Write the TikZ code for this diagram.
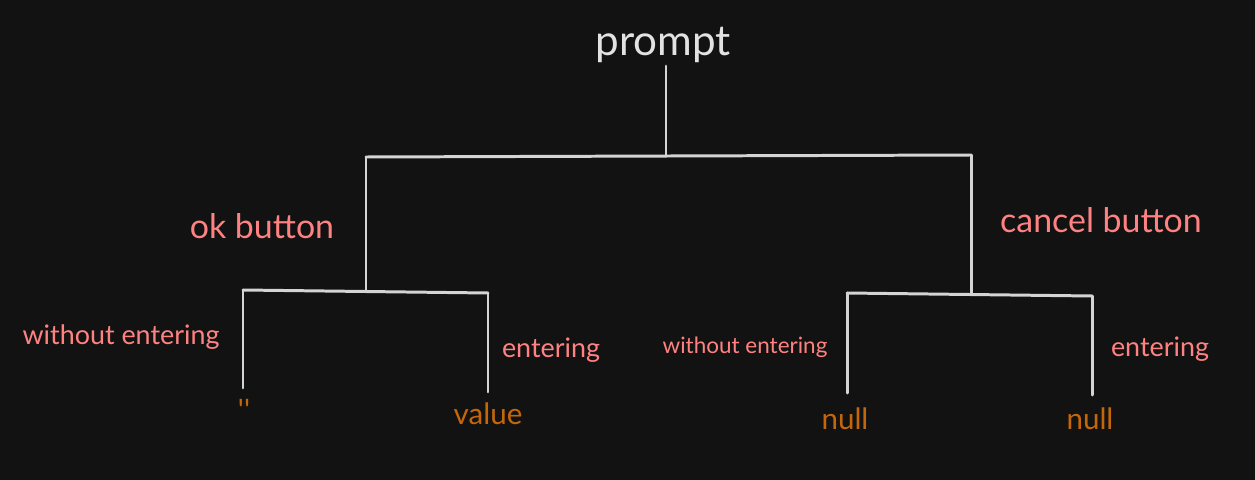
\documentclass[tikz,border=0pt]{standalone}
\usepackage{fontspec}
\setmainfont{Lato}
\definecolor{bg}{HTML}{121212}
\definecolor{wire}{HTML}{D4D4D4}
\definecolor{lbl}{HTML}{FF8282}
\definecolor{outc}{HTML}{C4670A}
\definecolor{ttl}{HTML}{E2E2E2}
\tikzset{
  wireline/.style={draw=wire, line width=1.7pt, line cap=round, line join=round},
  branchlbl/.style={text=lbl, inner sep=0pt, font=\fontsize{19.3}{21}\selectfont},
  caselbl/.style={text=lbl, inner sep=0pt, font=\fontsize{15.3}{17}\selectfont},
  smallcase/.style={text=lbl, inner sep=0pt, font=\fontsize{12.8}{14}\selectfont},
  outlbl/.style={text=outc, inner sep=0pt, font=\fontsize{16.8}{18}\selectfont},
}
\begin{document}
\begin{tikzpicture}[x=0.02cm, y=-0.02cm]
\useasboundingbox (0,0) rectangle (1255,480);
\fill[bg] (0,0) rectangle (1255,480);

% title
\node[text=ttl, inner sep=0pt, font=\fontsize{24}{27}\selectfont] (prompt) at (663,45) {prompt};

% junction coordinates
\coordinate (stemtop) at (666,66);
\coordinate (topmid) at (666,156);
\coordinate (topL) at (366,157);
\coordinate (topR) at (971,155);
\coordinate (okJ) at (366,291);
\coordinate (cancelJ) at (971,293);
\coordinate (okL) at (243,290);
\coordinate (okR) at (488,293);
\coordinate (okLend) at (243,388);
\coordinate (okRend) at (488,392);
\coordinate (caL) at (847,293);
\coordinate (caR) at (1092,296);
\coordinate (caLend) at (847,393);
\coordinate (caRend) at (1092,395);

% tree lines
\draw[wireline] (stemtop) -- (topmid);
\draw[wireline] (topL) -- (topR);
\draw[wireline] (topL) -- (okJ);
\draw[wireline] (topR) -- (cancelJ);
\draw[wireline] (okL) -- (okR);
\draw[wireline] (okL) -- (okLend);
\draw[wireline] (okR) -- (okRend);
\draw[wireline] (caL) -- (caR);
\draw[wireline] (caL) -- (caLend);
\draw[wireline] (caR) -- (caRend);

% branch labels
\node[branchlbl] (okbtn) at (262,226) {ok button};
\node[branchlbl] (cancelbtn) at (1101,220) {cancel button};

% case labels
\node[caselbl] (okwo) at (121,337) {without entering};
\node[caselbl] (okent) at (551,350) {entering};
\node[smallcase] (cawo) at (745,347) {without entering};
\node[caselbl] (caent) at (1160,349) {entering};

% outcomes
\node[outlbl] (outempty) at (244,410) {\textquotesingle\textquotesingle};
\node[outlbl] (outvalue) at (488,414) {value};
\node[outlbl] (outnull1) at (845,419) {null};
\node[outlbl] (outnull2) at (1090,419) {null};
\end{tikzpicture}
\end{document}
